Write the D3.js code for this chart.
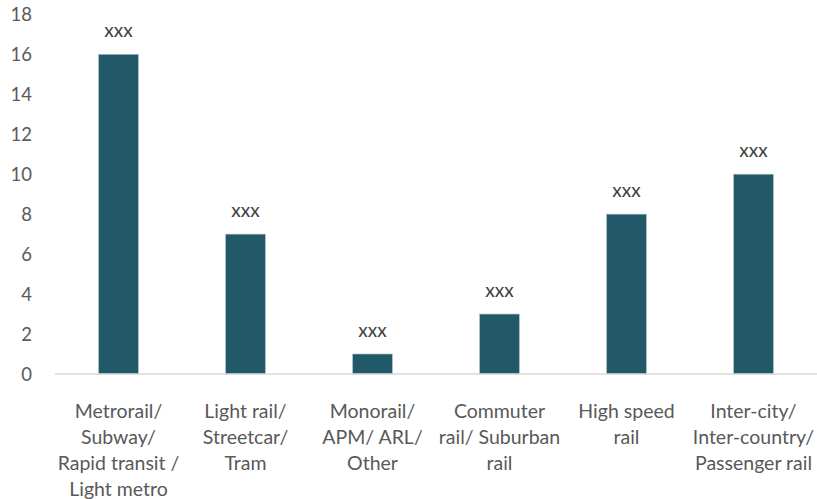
<!DOCTYPE html>
<html>
<head>
<meta charset="utf-8">
<script src="https://cdn.jsdelivr.net/npm/d3@7"></script>
<style>
  body { margin: 0; background: #fff; }
  svg text { font-family: Lato, "Open Sans", sans-serif; }
</style>
</head>
<body>
<div id="chart"></div>
<script>
var width = 817;
var height = 499;

var categories = [
  ["Metrorail/", "Subway/", "Rapid transit /", "Light metro"],
  ["Light rail/", "Streetcar/", "Tram"],
  ["Monorail/", "APM/ ARL/", "Other"],
  ["Commuter", "rail/ Suburban", "rail"],
  ["High speed", "rail"],
  ["Inter-city/", "Inter-country/", "Passenger rail"]
];
var values = [16, 7, 1, 3, 8, 10];
var valueLabels = ["xxx", "xxx", "xxx", "xxx", "xxx", "xxx"];
var yTicks = [0, 2, 4, 6, 8, 10, 12, 14, 16, 18];

var margin = {left: 55, right: 0, top: 14.4, bottom: 125};

var svg = d3.select("#chart")
    .append("svg")
    .attr("width", width)
    .attr("height", height);

var x = d3.scaleBand()
    .domain(d3.range(values.length))
    .range([margin.left, width - margin.right])
    .paddingInner(0.688)
    .paddingOuter(0.344);

var y = d3.scaleLinear()
    .domain([0, 18])
    .range([height - margin.bottom, margin.top]);

// y tick labels (no axis line)
svg.append("g")
    .selectAll("text")
    .data(yTicks)
    .enter()
    .append("text")
    .attr("x", 32)
    .attr("y", function(d) { return y(d); })
    .attr("dy", "0.36em")
    .attr("text-anchor", "end")
    .attr("fill", "#595959")
    .style("font-size", "18.5px")
    .text(function(d) { return d; });

svg.append("g")
    .selectAll("rect")
    .data(values)
    .enter()
    .append("rect")
    .attr("x", function(d, i) { return x(i); })
    .attr("width", x.bandwidth())
    .attr("y", function(d) { return y(d); })
    .attr("height", function(d) { return y(0) - y(d); })
    .attr("fill", "#215968")
    .attr("stroke", "#9fb9c0")
    .attr("stroke-width", 0.6);

// baseline
svg.append("line")
    .attr("x1", margin.left)
    .attr("x2", width)
    .attr("y1", y(0))
    .attr("y2", y(0))
    .attr("stroke", "#d9d9d9")
    .attr("stroke-width", 1.3);

svg.append("g")
    .selectAll("text")
    .data(values)
    .enter()
    .append("text")
    .attr("x", function(d, i) { return x(i) + x.bandwidth() / 2; })
    .attr("y", function(d) { return y(d) - 17; })
    .attr("text-anchor", "middle")
    .attr("fill", "#404040")
    .style("font-size", "19px")
    .text(function(d, i) { return valueLabels[i]; });

var cat = svg.append("g")
    .selectAll("text")
    .data(categories)
    .enter()
    .append("text")
    .attr("text-anchor", "middle")
    .attr("fill", "#595959")
    .style("font-size", "19.5px")
    .attr("x", function(d, i) { return x(i) + x.bandwidth() / 2; })
    .attr("y", y(0) + 44);

cat.selectAll("tspan")
    .data(function(d) { return d; })
    .enter()
    .append("tspan")
    .attr("x", function() { return d3.select(this.parentNode).attr("x"); })
    .attr("dy", function(d, i) { return i === 0 ? 0 : 26; })
    .text(function(d) { return d; });
</script>
</body>
</html>
